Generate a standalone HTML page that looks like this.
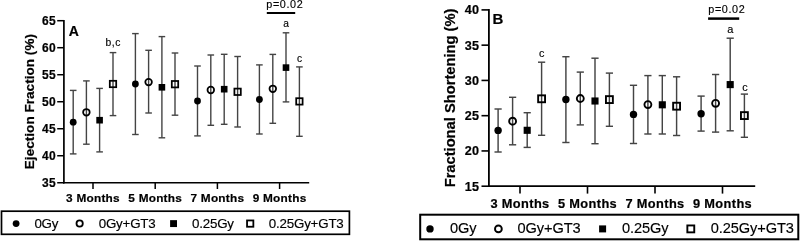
<!DOCTYPE html>
<html><head><meta charset="utf-8"><style>
html,body{margin:0;padding:0;background:#fff;}
body{width:800px;height:241px;overflow:hidden;}
svg{display:block;font-family:"Liberation Sans", sans-serif;will-change:transform;}
</style></head><body>
<svg width="800" height="241" viewBox="0 0 800 241">
<rect width="800" height="241" fill="#fff"/>
<g>
<line x1="73.20" y1="90.40" x2="73.20" y2="153.90" stroke="#444" stroke-width="1.4"/>
<line x1="69.90" y1="90.40" x2="76.50" y2="90.40" stroke="#444" stroke-width="1.4"/>
<line x1="69.90" y1="153.90" x2="76.50" y2="153.90" stroke="#444" stroke-width="1.4"/>
<line x1="86.40" y1="80.90" x2="86.40" y2="144.20" stroke="#444" stroke-width="1.4"/>
<line x1="83.10" y1="80.90" x2="89.70" y2="80.90" stroke="#444" stroke-width="1.4"/>
<line x1="83.10" y1="144.20" x2="89.70" y2="144.20" stroke="#444" stroke-width="1.4"/>
<line x1="99.60" y1="88.40" x2="99.60" y2="151.90" stroke="#444" stroke-width="1.4"/>
<line x1="96.30" y1="88.40" x2="102.90" y2="88.40" stroke="#444" stroke-width="1.4"/>
<line x1="96.30" y1="151.90" x2="102.90" y2="151.90" stroke="#444" stroke-width="1.4"/>
<line x1="113.00" y1="52.60" x2="113.00" y2="115.60" stroke="#444" stroke-width="1.4"/>
<line x1="109.70" y1="52.60" x2="116.30" y2="52.60" stroke="#444" stroke-width="1.4"/>
<line x1="109.70" y1="115.60" x2="116.30" y2="115.60" stroke="#444" stroke-width="1.4"/>
<line x1="135.40" y1="33.60" x2="135.40" y2="134.50" stroke="#444" stroke-width="1.4"/>
<line x1="132.10" y1="33.60" x2="138.70" y2="33.60" stroke="#444" stroke-width="1.4"/>
<line x1="132.10" y1="134.50" x2="138.70" y2="134.50" stroke="#444" stroke-width="1.4"/>
<line x1="148.60" y1="50.30" x2="148.60" y2="113.00" stroke="#444" stroke-width="1.4"/>
<line x1="145.30" y1="50.30" x2="151.90" y2="50.30" stroke="#444" stroke-width="1.4"/>
<line x1="145.30" y1="113.00" x2="151.90" y2="113.00" stroke="#444" stroke-width="1.4"/>
<line x1="161.90" y1="36.60" x2="161.90" y2="137.80" stroke="#444" stroke-width="1.4"/>
<line x1="158.60" y1="36.60" x2="165.20" y2="36.60" stroke="#444" stroke-width="1.4"/>
<line x1="158.60" y1="137.80" x2="165.20" y2="137.80" stroke="#444" stroke-width="1.4"/>
<line x1="175.00" y1="53.00" x2="175.00" y2="115.20" stroke="#444" stroke-width="1.4"/>
<line x1="171.70" y1="53.00" x2="178.30" y2="53.00" stroke="#444" stroke-width="1.4"/>
<line x1="171.70" y1="115.20" x2="178.30" y2="115.20" stroke="#444" stroke-width="1.4"/>
<line x1="197.50" y1="66.00" x2="197.50" y2="135.90" stroke="#444" stroke-width="1.4"/>
<line x1="194.20" y1="66.00" x2="200.80" y2="66.00" stroke="#444" stroke-width="1.4"/>
<line x1="194.20" y1="135.90" x2="200.80" y2="135.90" stroke="#444" stroke-width="1.4"/>
<line x1="210.80" y1="55.00" x2="210.80" y2="125.30" stroke="#444" stroke-width="1.4"/>
<line x1="207.50" y1="55.00" x2="214.10" y2="55.00" stroke="#444" stroke-width="1.4"/>
<line x1="207.50" y1="125.30" x2="214.10" y2="125.30" stroke="#444" stroke-width="1.4"/>
<line x1="224.20" y1="54.30" x2="224.20" y2="124.30" stroke="#444" stroke-width="1.4"/>
<line x1="220.90" y1="54.30" x2="227.50" y2="54.30" stroke="#444" stroke-width="1.4"/>
<line x1="220.90" y1="124.30" x2="227.50" y2="124.30" stroke="#444" stroke-width="1.4"/>
<line x1="237.60" y1="56.50" x2="237.60" y2="127.00" stroke="#444" stroke-width="1.4"/>
<line x1="234.30" y1="56.50" x2="240.90" y2="56.50" stroke="#444" stroke-width="1.4"/>
<line x1="234.30" y1="127.00" x2="240.90" y2="127.00" stroke="#444" stroke-width="1.4"/>
<line x1="259.40" y1="64.90" x2="259.40" y2="134.00" stroke="#444" stroke-width="1.4"/>
<line x1="256.10" y1="64.90" x2="262.70" y2="64.90" stroke="#444" stroke-width="1.4"/>
<line x1="256.10" y1="134.00" x2="262.70" y2="134.00" stroke="#444" stroke-width="1.4"/>
<line x1="272.80" y1="54.40" x2="272.80" y2="123.30" stroke="#444" stroke-width="1.4"/>
<line x1="269.50" y1="54.40" x2="276.10" y2="54.40" stroke="#444" stroke-width="1.4"/>
<line x1="269.50" y1="123.30" x2="276.10" y2="123.30" stroke="#444" stroke-width="1.4"/>
<line x1="286.00" y1="32.80" x2="286.00" y2="101.90" stroke="#444" stroke-width="1.4"/>
<line x1="282.70" y1="32.80" x2="289.30" y2="32.80" stroke="#444" stroke-width="1.4"/>
<line x1="282.70" y1="101.90" x2="289.30" y2="101.90" stroke="#444" stroke-width="1.4"/>
<line x1="299.40" y1="66.90" x2="299.40" y2="136.30" stroke="#444" stroke-width="1.4"/>
<line x1="296.10" y1="66.90" x2="302.70" y2="66.90" stroke="#444" stroke-width="1.4"/>
<line x1="296.10" y1="136.30" x2="302.70" y2="136.30" stroke="#444" stroke-width="1.4"/>
<circle cx="73.20" cy="122.20" r="3.4" fill="#000"/>
<circle cx="86.40" cy="112.30" r="3.3" fill="none" stroke="#000" stroke-width="1.75"/>
<rect x="96.30" y="116.90" width="6.6" height="6.6" fill="#000"/>
<rect x="109.80" y="80.80" width="6.4" height="6.4" fill="none" stroke="#000" stroke-width="1.75"/>
<circle cx="135.40" cy="84.00" r="3.4" fill="#000"/>
<circle cx="148.60" cy="82.10" r="3.3" fill="none" stroke="#000" stroke-width="1.75"/>
<rect x="158.60" y="84.00" width="6.6" height="6.6" fill="#000"/>
<rect x="171.80" y="81.00" width="6.4" height="6.4" fill="none" stroke="#000" stroke-width="1.75"/>
<circle cx="197.50" cy="101.00" r="3.4" fill="#000"/>
<circle cx="210.80" cy="90.00" r="3.3" fill="none" stroke="#000" stroke-width="1.75"/>
<rect x="220.90" y="85.90" width="6.6" height="6.6" fill="#000"/>
<rect x="234.40" y="88.60" width="6.4" height="6.4" fill="none" stroke="#000" stroke-width="1.75"/>
<circle cx="259.40" cy="99.50" r="3.4" fill="#000"/>
<circle cx="272.80" cy="88.80" r="3.3" fill="none" stroke="#000" stroke-width="1.75"/>
<rect x="282.70" y="64.30" width="6.6" height="6.6" fill="#000"/>
<rect x="296.20" y="98.20" width="6.4" height="6.4" fill="none" stroke="#000" stroke-width="1.75"/>
<line x1="63.90" y1="19.90" x2="63.90" y2="183.60" stroke="#000" stroke-width="1.7"/>
<line x1="63.05" y1="182.75" x2="309.20" y2="182.75" stroke="#000" stroke-width="1.7"/>
<line x1="57.20" y1="20.70" x2="63.90" y2="20.70" stroke="#000" stroke-width="1.5"/>
<text x="56.00" y="24.80" font-size="12.0" font-weight="bold" text-anchor="end" letter-spacing="0.3" fill="#000"  stroke="#000" stroke-width="0.2">65</text>
<line x1="57.20" y1="47.71" x2="63.90" y2="47.71" stroke="#000" stroke-width="1.5"/>
<text x="56.00" y="51.81" font-size="12.0" font-weight="bold" text-anchor="end" letter-spacing="0.3" fill="#000"  stroke="#000" stroke-width="0.2">60</text>
<line x1="57.20" y1="74.72" x2="63.90" y2="74.72" stroke="#000" stroke-width="1.5"/>
<text x="56.00" y="78.82" font-size="12.0" font-weight="bold" text-anchor="end" letter-spacing="0.3" fill="#000"  stroke="#000" stroke-width="0.2">55</text>
<line x1="57.20" y1="101.73" x2="63.90" y2="101.73" stroke="#000" stroke-width="1.5"/>
<text x="56.00" y="105.83" font-size="12.0" font-weight="bold" text-anchor="end" letter-spacing="0.3" fill="#000"  stroke="#000" stroke-width="0.2">50</text>
<line x1="57.20" y1="128.73" x2="63.90" y2="128.73" stroke="#000" stroke-width="1.5"/>
<text x="56.00" y="132.83" font-size="12.0" font-weight="bold" text-anchor="end" letter-spacing="0.3" fill="#000"  stroke="#000" stroke-width="0.2">45</text>
<line x1="57.20" y1="155.74" x2="63.90" y2="155.74" stroke="#000" stroke-width="1.5"/>
<text x="56.00" y="159.84" font-size="12.0" font-weight="bold" text-anchor="end" letter-spacing="0.3" fill="#000"  stroke="#000" stroke-width="0.2">40</text>
<line x1="57.20" y1="182.75" x2="63.90" y2="182.75" stroke="#000" stroke-width="1.5"/>
<text x="56.00" y="186.85" font-size="12.0" font-weight="bold" text-anchor="end" letter-spacing="0.3" fill="#000"  stroke="#000" stroke-width="0.2">35</text>
<line x1="93.00" y1="182.75" x2="93.00" y2="189.00" stroke="#000" stroke-width="1.5"/>
<text x="93.00" y="202.40" font-size="11.8" font-weight="bold" text-anchor="middle" letter-spacing="0.25" fill="#000"  stroke="#000" stroke-width="0.2">3 Months</text>
<line x1="155.20" y1="182.75" x2="155.20" y2="189.00" stroke="#000" stroke-width="1.5"/>
<text x="155.20" y="202.40" font-size="11.8" font-weight="bold" text-anchor="middle" letter-spacing="0.25" fill="#000"  stroke="#000" stroke-width="0.2">5 Months</text>
<line x1="217.40" y1="182.75" x2="217.40" y2="189.00" stroke="#000" stroke-width="1.5"/>
<text x="217.40" y="202.40" font-size="11.8" font-weight="bold" text-anchor="middle" letter-spacing="0.25" fill="#000"  stroke="#000" stroke-width="0.2">7 Months</text>
<line x1="279.60" y1="182.75" x2="279.60" y2="189.00" stroke="#000" stroke-width="1.5"/>
<text x="279.60" y="202.40" font-size="11.8" font-weight="bold" text-anchor="middle" letter-spacing="0.25" fill="#000"  stroke="#000" stroke-width="0.2">9 Months</text>
<text x="68.70" y="35.50" font-size="14.0" font-weight="bold" text-anchor="start" fill="#000"  stroke="#000" stroke-width="0.2">A</text>
<text transform="translate(33.5,101.6) rotate(-90)" font-size="13.6" font-weight="bold" text-anchor="middle" stroke="#000" stroke-width="0.2">Ejection Fraction (%)</text>
<text x="113.30" y="46.30" font-size="10.3" font-weight="normal" text-anchor="middle" letter-spacing="0.6" fill="#000"  stroke="#000" stroke-width="0.15">b,c</text>
<text x="286.00" y="26.80" font-size="10.2" font-weight="normal" text-anchor="middle" fill="#000"  stroke="#000" stroke-width="0.15">a</text>
<text x="299.60" y="61.50" font-size="10.2" font-weight="normal" text-anchor="middle" fill="#000"  stroke="#000" stroke-width="0.15">c</text>
<text x="284.80" y="7.70" font-size="10.8" font-weight="normal" text-anchor="middle" letter-spacing="0.6" fill="#000"  stroke="#000" stroke-width="0.15">p=0.02</text>
<line x1="266.80" y1="13.00" x2="295.20" y2="13.00" stroke="#000" stroke-width="2.0"/>
<rect x="1.5" y="211.2" width="347.9" height="23.1" fill="none" stroke="#000" stroke-width="1.7"/>
<circle cx="16.10" cy="223.60" r="3.4" fill="#000"/>
<text x="34.40" y="227.70" font-size="13.35" font-weight="normal" text-anchor="start" letter-spacing="-0.2" fill="#000"  stroke="#000" stroke-width="0.15">0Gy</text>
<circle cx="79.65" cy="223.50" r="3.15" fill="none" stroke="#000" stroke-width="1.8"/>
<text x="98.70" y="227.70" font-size="13.35" font-weight="normal" text-anchor="start" letter-spacing="-0.2" fill="#000"  stroke="#000" stroke-width="0.15">0Gy+GT3</text>
<rect x="170.10" y="220.15" width="6.9" height="6.9" fill="#000"/>
<text x="192.00" y="227.70" font-size="13.35" font-weight="normal" text-anchor="start" letter-spacing="-0.2" fill="#000"  stroke="#000" stroke-width="0.15">0.25Gy</text>
<rect x="247.05" y="220.45" width="6.3" height="6.3" fill="none" stroke="#000" stroke-width="1.8"/>
<text x="268.80" y="227.70" font-size="13.35" font-weight="normal" text-anchor="start" letter-spacing="-0.2" fill="#000"  stroke="#000" stroke-width="0.15">0.25Gy+GT3</text>
</g>
<line x1="498.10" y1="109.00" x2="498.10" y2="152.00" stroke="#444" stroke-width="1.45"/>
<line x1="494.50" y1="109.00" x2="501.70" y2="109.00" stroke="#444" stroke-width="1.45"/>
<line x1="494.50" y1="152.00" x2="501.70" y2="152.00" stroke="#444" stroke-width="1.45"/>
<line x1="512.60" y1="97.30" x2="512.60" y2="144.80" stroke="#444" stroke-width="1.45"/>
<line x1="509.00" y1="97.30" x2="516.20" y2="97.30" stroke="#444" stroke-width="1.45"/>
<line x1="509.00" y1="144.80" x2="516.20" y2="144.80" stroke="#444" stroke-width="1.45"/>
<line x1="527.20" y1="112.70" x2="527.20" y2="147.40" stroke="#444" stroke-width="1.45"/>
<line x1="523.60" y1="112.70" x2="530.80" y2="112.70" stroke="#444" stroke-width="1.45"/>
<line x1="523.60" y1="147.40" x2="530.80" y2="147.40" stroke="#444" stroke-width="1.45"/>
<line x1="541.60" y1="62.20" x2="541.60" y2="135.30" stroke="#444" stroke-width="1.45"/>
<line x1="538.00" y1="62.20" x2="545.20" y2="62.20" stroke="#444" stroke-width="1.45"/>
<line x1="538.00" y1="135.30" x2="545.20" y2="135.30" stroke="#444" stroke-width="1.45"/>
<line x1="565.90" y1="56.70" x2="565.90" y2="142.50" stroke="#444" stroke-width="1.45"/>
<line x1="562.30" y1="56.70" x2="569.50" y2="56.70" stroke="#444" stroke-width="1.45"/>
<line x1="562.30" y1="142.50" x2="569.50" y2="142.50" stroke="#444" stroke-width="1.45"/>
<line x1="580.30" y1="72.10" x2="580.30" y2="124.90" stroke="#444" stroke-width="1.45"/>
<line x1="576.70" y1="72.10" x2="583.90" y2="72.10" stroke="#444" stroke-width="1.45"/>
<line x1="576.70" y1="124.90" x2="583.90" y2="124.90" stroke="#444" stroke-width="1.45"/>
<line x1="595.00" y1="58.20" x2="595.00" y2="143.70" stroke="#444" stroke-width="1.45"/>
<line x1="591.40" y1="58.20" x2="598.60" y2="58.20" stroke="#444" stroke-width="1.45"/>
<line x1="591.40" y1="143.70" x2="598.60" y2="143.70" stroke="#444" stroke-width="1.45"/>
<line x1="609.40" y1="73.10" x2="609.40" y2="126.30" stroke="#444" stroke-width="1.45"/>
<line x1="605.80" y1="73.10" x2="613.00" y2="73.10" stroke="#444" stroke-width="1.45"/>
<line x1="605.80" y1="126.30" x2="613.00" y2="126.30" stroke="#444" stroke-width="1.45"/>
<line x1="633.50" y1="85.30" x2="633.50" y2="143.50" stroke="#444" stroke-width="1.45"/>
<line x1="629.90" y1="85.30" x2="637.10" y2="85.30" stroke="#444" stroke-width="1.45"/>
<line x1="629.90" y1="143.50" x2="637.10" y2="143.50" stroke="#444" stroke-width="1.45"/>
<line x1="647.90" y1="75.60" x2="647.90" y2="134.00" stroke="#444" stroke-width="1.45"/>
<line x1="644.30" y1="75.60" x2="651.50" y2="75.60" stroke="#444" stroke-width="1.45"/>
<line x1="644.30" y1="134.00" x2="651.50" y2="134.00" stroke="#444" stroke-width="1.45"/>
<line x1="662.30" y1="75.60" x2="662.30" y2="134.00" stroke="#444" stroke-width="1.45"/>
<line x1="658.70" y1="75.60" x2="665.90" y2="75.60" stroke="#444" stroke-width="1.45"/>
<line x1="658.70" y1="134.00" x2="665.90" y2="134.00" stroke="#444" stroke-width="1.45"/>
<line x1="676.60" y1="76.80" x2="676.60" y2="135.50" stroke="#444" stroke-width="1.45"/>
<line x1="673.00" y1="76.80" x2="680.20" y2="76.80" stroke="#444" stroke-width="1.45"/>
<line x1="673.00" y1="135.50" x2="680.20" y2="135.50" stroke="#444" stroke-width="1.45"/>
<line x1="701.10" y1="96.10" x2="701.10" y2="131.10" stroke="#444" stroke-width="1.45"/>
<line x1="697.50" y1="96.10" x2="704.70" y2="96.10" stroke="#444" stroke-width="1.45"/>
<line x1="697.50" y1="131.10" x2="704.70" y2="131.10" stroke="#444" stroke-width="1.45"/>
<line x1="715.60" y1="74.50" x2="715.60" y2="132.10" stroke="#444" stroke-width="1.45"/>
<line x1="712.00" y1="74.50" x2="719.20" y2="74.50" stroke="#444" stroke-width="1.45"/>
<line x1="712.00" y1="132.10" x2="719.20" y2="132.10" stroke="#444" stroke-width="1.45"/>
<line x1="730.20" y1="38.20" x2="730.20" y2="130.80" stroke="#444" stroke-width="1.45"/>
<line x1="726.60" y1="38.20" x2="733.80" y2="38.20" stroke="#444" stroke-width="1.45"/>
<line x1="726.60" y1="130.80" x2="733.80" y2="130.80" stroke="#444" stroke-width="1.45"/>
<line x1="744.40" y1="94.10" x2="744.40" y2="137.30" stroke="#444" stroke-width="1.45"/>
<line x1="740.80" y1="94.10" x2="748.00" y2="94.10" stroke="#444" stroke-width="1.45"/>
<line x1="740.80" y1="137.30" x2="748.00" y2="137.30" stroke="#444" stroke-width="1.45"/>
<circle cx="498.10" cy="130.40" r="3.7" fill="#000"/>
<circle cx="512.60" cy="121.20" r="3.45" fill="none" stroke="#000" stroke-width="1.9"/>
<rect x="523.65" y="126.75" width="7.1" height="7.1" fill="#000"/>
<rect x="538.15" y="95.35" width="6.9" height="6.9" fill="none" stroke="#000" stroke-width="1.9"/>
<circle cx="565.90" cy="99.50" r="3.7" fill="#000"/>
<circle cx="580.30" cy="98.50" r="3.45" fill="none" stroke="#000" stroke-width="1.9"/>
<rect x="591.45" y="97.45" width="7.1" height="7.1" fill="#000"/>
<rect x="605.95" y="96.15" width="6.9" height="6.9" fill="none" stroke="#000" stroke-width="1.9"/>
<circle cx="633.50" cy="114.40" r="3.7" fill="#000"/>
<circle cx="647.90" cy="104.60" r="3.45" fill="none" stroke="#000" stroke-width="1.9"/>
<rect x="658.75" y="101.25" width="7.1" height="7.1" fill="#000"/>
<rect x="673.15" y="102.75" width="6.9" height="6.9" fill="none" stroke="#000" stroke-width="1.9"/>
<circle cx="701.10" cy="113.70" r="3.7" fill="#000"/>
<circle cx="715.60" cy="103.30" r="3.45" fill="none" stroke="#000" stroke-width="1.9"/>
<rect x="726.65" y="81.05" width="7.1" height="7.1" fill="#000"/>
<rect x="740.95" y="112.15" width="6.9" height="6.9" fill="none" stroke="#000" stroke-width="1.9"/>
<line x1="488.90" y1="9.00" x2="488.90" y2="187.10" stroke="#000" stroke-width="1.8"/>
<line x1="488.00" y1="186.20" x2="755.20" y2="186.20" stroke="#000" stroke-width="1.8"/>
<line x1="481.50" y1="9.90" x2="488.90" y2="9.90" stroke="#000" stroke-width="1.6"/>
<text x="479.40" y="14.30" font-size="12.6" font-weight="bold" text-anchor="end" letter-spacing="0.3" fill="#000"  stroke="#000" stroke-width="0.2">40</text>
<line x1="481.50" y1="45.16" x2="488.90" y2="45.16" stroke="#000" stroke-width="1.6"/>
<text x="479.40" y="49.56" font-size="12.6" font-weight="bold" text-anchor="end" letter-spacing="0.3" fill="#000"  stroke="#000" stroke-width="0.2">35</text>
<line x1="481.50" y1="80.42" x2="488.90" y2="80.42" stroke="#000" stroke-width="1.6"/>
<text x="479.40" y="84.82" font-size="12.6" font-weight="bold" text-anchor="end" letter-spacing="0.3" fill="#000"  stroke="#000" stroke-width="0.2">30</text>
<line x1="481.50" y1="115.68" x2="488.90" y2="115.68" stroke="#000" stroke-width="1.6"/>
<text x="479.40" y="120.08" font-size="12.6" font-weight="bold" text-anchor="end" letter-spacing="0.3" fill="#000"  stroke="#000" stroke-width="0.2">25</text>
<line x1="481.50" y1="150.94" x2="488.90" y2="150.94" stroke="#000" stroke-width="1.6"/>
<text x="479.40" y="155.34" font-size="12.6" font-weight="bold" text-anchor="end" letter-spacing="0.3" fill="#000"  stroke="#000" stroke-width="0.2">20</text>
<line x1="481.50" y1="186.20" x2="488.90" y2="186.20" stroke="#000" stroke-width="1.6"/>
<text x="479.40" y="190.60" font-size="12.6" font-weight="bold" text-anchor="end" letter-spacing="0.3" fill="#000"  stroke="#000" stroke-width="0.2">15</text>
<line x1="520.00" y1="186.20" x2="520.00" y2="193.60" stroke="#000" stroke-width="1.6"/>
<text x="520.00" y="207.60" font-size="12.8" font-weight="bold" text-anchor="middle" letter-spacing="0.38" fill="#000"  stroke="#000" stroke-width="0.2">3 Months</text>
<line x1="587.50" y1="186.20" x2="587.50" y2="193.60" stroke="#000" stroke-width="1.6"/>
<text x="587.50" y="207.60" font-size="12.8" font-weight="bold" text-anchor="middle" letter-spacing="0.38" fill="#000"  stroke="#000" stroke-width="0.2">5 Months</text>
<line x1="655.00" y1="186.20" x2="655.00" y2="193.60" stroke="#000" stroke-width="1.6"/>
<text x="655.00" y="207.60" font-size="12.8" font-weight="bold" text-anchor="middle" letter-spacing="0.38" fill="#000"  stroke="#000" stroke-width="0.2">7 Months</text>
<line x1="722.50" y1="186.20" x2="722.50" y2="193.60" stroke="#000" stroke-width="1.6"/>
<text x="722.50" y="207.60" font-size="12.8" font-weight="bold" text-anchor="middle" letter-spacing="0.38" fill="#000"  stroke="#000" stroke-width="0.2">9 Months</text>
<text x="492.50" y="23.70" font-size="15.0" font-weight="bold" text-anchor="start" fill="#000"  stroke="#000" stroke-width="0.2">B</text>
<text transform="translate(455.0,98.0) rotate(-90)" font-size="14.7" font-weight="bold" text-anchor="middle" stroke="#000" stroke-width="0.2">Fractional Shortening (%)</text>
<text x="541.60" y="56.60" font-size="10.8" font-weight="normal" text-anchor="middle" fill="#000"  stroke="#000" stroke-width="0.15">c</text>
<text x="730.40" y="32.90" font-size="11.0" font-weight="normal" text-anchor="middle" fill="#000"  stroke="#000" stroke-width="0.15">a</text>
<text x="745.00" y="90.80" font-size="10.8" font-weight="normal" text-anchor="middle" fill="#000"  stroke="#000" stroke-width="0.15">c</text>
<text x="726.80" y="13.10" font-size="10.8" font-weight="normal" text-anchor="middle" letter-spacing="0.6" fill="#000"  stroke="#000" stroke-width="0.15">p=0.02</text>
<line x1="708.10" y1="18.60" x2="739.20" y2="18.60" stroke="#000" stroke-width="2.5"/>
<rect x="420.2" y="214.7" width="378.1" height="24.6" fill="none" stroke="#000" stroke-width="2"/>
<circle cx="430.00" cy="228.90" r="3.7" fill="#000"/>
<text x="450.00" y="233.20" font-size="14.6" font-weight="normal" text-anchor="start" letter-spacing="-0.1" fill="#000"  stroke="#000" stroke-width="0.15">0Gy</text>
<circle cx="498.40" cy="228.90" r="3.4" fill="none" stroke="#000" stroke-width="1.9"/>
<text x="517.60" y="233.20" font-size="14.6" font-weight="normal" text-anchor="start" letter-spacing="-0.1" fill="#000"  stroke="#000" stroke-width="0.15">0Gy+GT3</text>
<rect x="599.10" y="225.40" width="7.0" height="7.0" fill="#000"/>
<text x="622.00" y="233.20" font-size="14.6" font-weight="normal" text-anchor="start" letter-spacing="-0.1" fill="#000"  stroke="#000" stroke-width="0.15">0.25Gy</text>
<rect x="687.35" y="225.45" width="6.9" height="6.9" fill="none" stroke="#000" stroke-width="1.9"/>
<text x="710.80" y="233.20" font-size="14.6" font-weight="normal" text-anchor="start" letter-spacing="-0.1" fill="#000"  stroke="#000" stroke-width="0.15">0.25Gy+GT3</text>
</svg>
</body></html>
